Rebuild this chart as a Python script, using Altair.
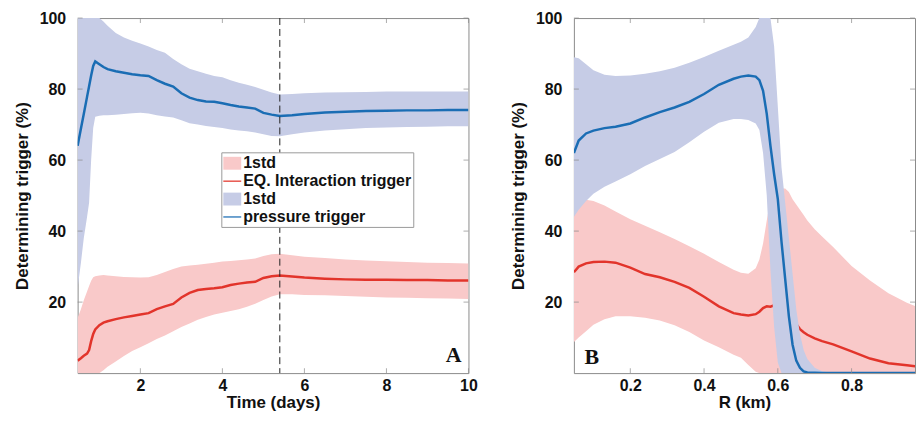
import altair as alt
import pandas as pd

# ---------------- Panel A : Time (days) ----------------
time_days = [0.47, 0.55, 0.62, 0.7, 0.75, 0.8, 0.85, 0.9, 1.0, 1.1, 1.2, 1.4, 1.6, 1.8,
             2.0, 2.2, 2.4, 2.6, 2.8, 3.0, 3.2, 3.4, 3.6, 3.8, 4.0, 4.2, 4.4, 4.6, 4.8,
             5.0, 5.2, 5.4, 5.7, 6.0, 6.5, 7.0, 7.5, 8.0, 8.5, 9.0, 9.5, 10.0]
press_mean_a = [64.0, 68.8, 73.0, 77.8, 80.8, 83.8, 86.5, 87.8, 87.0, 86.2, 85.6, 85.0, 84.6, 84.2,
                83.9, 83.7, 82.5, 81.5, 80.7, 78.8, 77.6, 76.9, 76.5, 76.4, 76.0, 75.5, 75.1, 74.8, 74.5,
                73.3, 72.8, 72.4, 72.6, 73.0, 73.4, 73.6, 73.8, 73.9, 74.0, 74.0, 74.1, 74.1]
press_hi_a = [100, 100, 100, 100, 100, 100, 100, 100, 100, 99.0, 97.8, 95.8, 94.5, 93.6,
              92.8, 92.0, 91.0, 90.2, 88.5, 87.0, 85.7, 85.0, 84.3, 83.7, 83.3, 82.5, 81.8, 81.2, 80.6,
              79.8, 79.0, 78.5, 78.6, 78.8, 79.0, 79.1, 79.2, 79.3, 79.3, 79.3, 79.3, 79.3]
press_lo_a = [24.0, 31.0, 38.0, 44.0, 48.0, 60.0, 69.0, 72.2, 72.5, 72.6, 72.6, 72.8, 73.0, 73.2,
              73.3, 73.1, 72.6, 72.3, 72.0, 71.2, 70.4, 70.0, 69.6, 69.3, 69.0, 68.6, 68.3, 68.1, 67.8,
              67.3, 66.8, 66.7, 67.3, 67.8, 68.3, 68.7, 69.0, 69.2, 69.3, 69.4, 69.5, 69.5]
eq_mean_a = [3.5, 4.2, 4.9, 5.5, 6.5, 9.0, 11.0, 12.3, 13.5, 14.2, 14.6, 15.2, 15.7, 16.1,
             16.5, 16.9, 18.0, 18.8, 19.5, 21.3, 22.6, 23.4, 23.7, 23.9, 24.2, 24.8, 25.2, 25.5, 25.7,
             26.8, 27.3, 27.5, 27.2, 26.9, 26.6, 26.4, 26.3, 26.3, 26.2, 26.2, 26.1, 26.1]
eq_hi_a = [15.5, 18.0, 20.5, 23.0, 24.5, 26.0, 27.0, 27.3, 27.5, 27.6, 27.5, 27.3, 27.1, 27.0,
           26.9, 27.0, 27.6, 28.5, 29.3, 30.0, 30.3, 30.5, 30.8, 31.1, 31.4, 31.6, 31.8, 32.0, 32.3,
           33.0, 33.5, 33.6, 33.2, 32.8, 32.4, 32.0, 31.7, 31.5, 31.3, 31.1, 31.0, 30.9]
eq_lo_a = [0, 0, 0, 0, 0, 0, 0, 0, 0, 0.8, 1.8, 3.3, 4.8, 6.2,
           7.3, 8.4, 9.6, 10.6, 11.8, 13.0, 14.0, 15.0, 15.8, 16.5, 17.0, 17.5, 18.0, 18.7, 19.5,
           20.6, 21.6, 22.2, 22.2, 22.0, 21.9, 21.7, 21.5, 21.3, 21.2, 21.1, 21.0, 20.9]
marker_day = [5.4]

# ---------------- Panel B : R (km) ----------------
r_km = [0.047, 0.06, 0.08, 0.1, 0.13, 0.16, 0.2, 0.24, 0.28, 0.32, 0.36, 0.4, 0.44, 0.48,
        0.5, 0.52, 0.54, 0.55, 0.56, 0.57, 0.58, 0.59, 0.6, 0.61, 0.62, 0.63, 0.64, 0.65,
        0.66, 0.67, 0.68, 0.7, 0.72, 0.75, 0.8, 0.85, 0.9, 0.95, 1.0]
press_mean_b = [62.0, 65.5, 67.5, 68.3, 69.0, 69.4, 70.3, 72.0, 73.5, 74.8, 76.4, 78.6, 81.2, 82.9,
                83.5, 83.8, 83.5, 82.5, 79.5, 73.0, 64.0, 56.0, 49.0, 37.0, 26.5, 16.0, 8.0, 3.5,
                1.5, 0.5, 0.2, 0.1, 0, 0, 0, 0, 0, 0, 0]
press_hi_b = [89.0, 88.7, 87.0, 85.3, 84.0, 83.7, 83.8, 84.3, 85.0, 86.0, 87.4, 89.0, 90.8, 92.5,
              93.3, 94.5, 97.5, 100, 100, 100, 100, 92.0, 75.0, 58.0, 48.0, 38.0, 28.0, 18.0,
              11.0, 6.5, 4.0, 1.5, 0.5, 0, 0, 0, 0, 0, 0]
press_lo_b = [44.0, 46.0, 48.5, 50.5, 52.5, 54.0, 56.0, 58.3, 60.3, 62.3, 65.0, 68.0, 70.5, 71.6,
              71.6, 71.3, 70.3, 68.5, 62.0, 50.0, 29.0, 13.0, 3.0, 0, 0, 0, 0, 0,
              0, 0, 0, 0, 0, 0, 0, 0, 0, 0, 0]
eq_mean_b = [28.4, 30.0, 30.9, 31.3, 31.4, 31.1, 29.7, 27.9, 27.0, 25.7, 24.0, 21.5, 18.8, 16.9,
             16.5, 16.2, 16.6, 17.3, 18.3, 18.8, 18.7, 19.1, 19.3, 18.0, 17.0, 16.0, 15.0, 13.8,
             12.4, 11.5, 10.8, 9.8, 9.0, 8.1, 6.1, 4.1, 2.8, 2.2, 1.6]
eq_hi_b = [47.0, 48.0, 48.8, 48.5, 47.2, 45.5, 43.3, 41.5, 39.7, 37.8, 35.7, 33.6, 31.3, 29.1,
           28.3, 28.0, 29.5, 32.0, 36.5, 43.0, 49.0, 50.5, 51.5, 52.0, 52.0, 51.0, 49.0, 47.5,
           46.0, 44.5, 43.0, 40.5, 38.5, 35.5, 30.2, 26.1, 22.5, 19.8, 17.8]
eq_lo_b = [8.7, 10.0, 11.8, 13.6, 15.2, 16.0, 16.0, 15.6, 14.8, 13.5, 11.6, 9.2, 7.3, 5.2,
           4.3, 2.3, 0.4, 0, 0, 0, 0, 0, 0, 0, 0, 0, 0, 0,
           0, 0, 0, 0, 0, 0, 0, 0, 0, 0, 0]

# ---------------- Legend ----------------
legend_keys = ["1std (EQ)", "EQ. Interaction trigger", "1std (pressure)", "pressure trigger"]

y_ticks = [20, 40, 60, 80, 100]
x_ticks_a = [2, 4, 6, 8, 10]
x_ticks_b = [0.2, 0.4, 0.6, 0.8]

RED_BAND = "#F9C9C9"
BLUE_BAND = "#C6CCE6"
RED_LINE = "#E2342B"
BLUE_LINE = "#1A6DB4"
FRAME = "#8a8a8a"

dfA = pd.DataFrame({"x": time_days, "pm": press_mean_a, "ph": press_hi_a, "pl": press_lo_a,
                    "em": eq_mean_a, "eh": eq_hi_a, "el": eq_lo_a})
dfB = pd.DataFrame({"x": r_km, "pm": press_mean_b, "ph": press_hi_b, "pl": press_lo_b,
                    "em": eq_mean_b, "eh": eq_hi_b, "el": eq_lo_b})

y_scale = alt.Scale(domain=[0, 100], nice=False, zero=False)
y_axis = alt.Axis(values=y_ticks, title="Determining trigger (%)", labelPadding=12, titlePadding=8)

TL = 5  # inward tick length


def panel(df, xdom, xticks, xtitle, xfmt, letter, letter_pos, letter_align, extra=None):
    x_scale = alt.Scale(domain=xdom, nice=False, zero=False)
    x_axis = alt.Axis(values=xticks, title=xtitle, format=xfmt, labelPadding=4, titlePadding=2,
                      labelFlush=False)

    def X(f):
        return alt.X(f, type="quantitative", scale=x_scale, axis=x_axis)

    def Y(f):
        return alt.Y(f, type="quantitative", scale=y_scale, axis=y_axis)

    base = alt.Chart(df)
    red_band = base.mark_area(color=RED_BAND, clip=True, orient="vertical").encode(
        x=X("x"), y=Y("el"), y2="eh")
    red_line = base.mark_line(color=RED_LINE, strokeWidth=2.5, clip=True).encode(
        x=X("x"), y=Y("em"))
    blue_band = base.mark_area(color=BLUE_BAND, clip=True, orient="vertical").encode(
        x=X("x"), y=Y("pl"), y2="ph")
    blue_line = base.mark_line(color=BLUE_LINE, strokeWidth=2.5, clip=True).encode(
        x=X("x"), y=Y("pm"))

    xt = pd.DataFrame({"v": xticks})
    yt = pd.DataFrame({"v": y_ticks})
    tick_kw = dict(color=FRAME, size=TL, thickness=1)
    t_bottom = alt.Chart(xt).mark_tick(orient="vertical", yOffset=-TL / 2, **tick_kw).encode(
        x=X("v"), y=alt.datum(0, scale=y_scale, axis=y_axis))
    t_top = alt.Chart(xt).mark_tick(orient="vertical", yOffset=TL / 2, **tick_kw).encode(
        x=X("v"), y=alt.datum(100, scale=y_scale, axis=y_axis))
    t_left = alt.Chart(yt).mark_tick(orient="horizontal", xOffset=TL / 2, **tick_kw).encode(
        y=Y("v"), x=alt.datum(xdom[0], scale=x_scale, axis=x_axis))
    t_right = alt.Chart(yt).mark_tick(orient="horizontal", xOffset=-TL / 2, **tick_kw).encode(
        y=Y("v"), x=alt.datum(xdom[1], scale=x_scale, axis=x_axis))

    txt = alt.Chart(pd.DataFrame({"label": [letter]})).mark_text(
        font="Liberation Serif", fontWeight="bold", fontSize=22, align=letter_align,
        baseline="alphabetic", color="#111").encode(
        x=alt.datum(letter_pos[0], scale=x_scale, axis=x_axis),
        y=alt.datum(letter_pos[1], scale=y_scale, axis=y_axis),
        text="label:N")

    layers = [red_band, red_line, blue_band, blue_line]
    if extra is not None:
        layers += extra(X, Y)
    layers += [t_bottom, t_top, t_left, t_right, txt]
    return alt.layer(*layers)


def extra_a(X, Y):
    rule = alt.Chart(pd.DataFrame({"d": marker_day})).mark_rule(
        color="#222", strokeDash=[7, 4], strokeWidth=1).encode(x=X("d"))
    lab_expr = "indexof(datum.value, '1std') == 0 ? '1std' : datum.value"
    leg = alt.Legend(orient="none", legendX=144.5, legendY=135, title=None,
                     symbolSize=324, symbolStrokeWidth=0, symbolOpacity=1,
                     labelFont="Liberation Sans", labelFontWeight="bold", labelFontSize=16,
                     labelColor="#111", labelOffset=2, rowPadding=1, padding=2, labelLimit=400,
                     strokeColor="#999999", fillColor="white", labelExpr=lab_expr)
    rect = "M-1,-0.72H1V0.72H-1Z"
    line = "M-1,-0.07H1V0.07H-1Z"
    pts = alt.Chart(pd.DataFrame({"entry": legend_keys})).mark_point(
        filled=True, opacity=0).encode(
        color=alt.Color("entry:N", scale=alt.Scale(domain=legend_keys,
                                                   range=[RED_BAND, RED_LINE, BLUE_BAND, BLUE_LINE]),
                        legend=leg),
        shape=alt.Shape("entry:N", scale=alt.Scale(domain=legend_keys,
                                                   range=[rect, line, rect, line]),
                        legend=leg))
    return [rule, pts]


chartA = panel(dfA, [0.47, 10], x_ticks_a, "Time (days)", "d", "A", (9.83, 3.2), "right",
               extra=extra_a).properties(width=393, height=357)
chartB = panel(dfB, [0.047, 0.972], x_ticks_b, "R (km)", "~g", "B", (0.076, 2.6), "left"
               ).properties(width=343, height=357)

chart = alt.hconcat(chartA, chartB, spacing=30).resolve_scale(
    color="independent", shape="independent").resolve_legend(
    color="independent", shape="independent").properties(
    padding={"left": 4, "top": 0, "right": 0, "bottom": 0}, background="white"
).configure_axis(
    labelFont="Liberation Sans", labelFontWeight="bold", labelFontSize=16, labelColor="#111",
    titleFont="Liberation Sans", titleFontWeight="bold", titleFontSize=17, titleColor="#111",
    tickSize=0, domain=False, grid=False
).configure_view(stroke=FRAME, strokeWidth=1)

chart.save("out.html", embed_options={"renderer": "svg", "actions": False})
